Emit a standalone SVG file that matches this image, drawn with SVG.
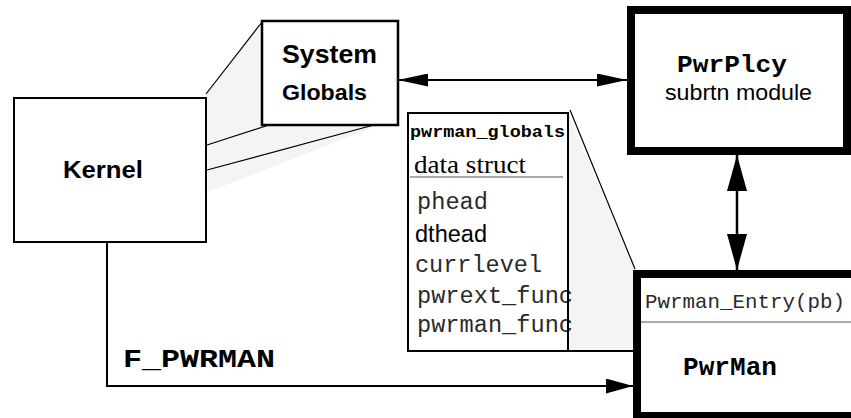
<svg xmlns="http://www.w3.org/2000/svg" width="851" height="418" viewBox="0 0 851 418">
<defs>
<style>
.box{fill:#fff;stroke:#000}
.thin{stroke:#000;stroke-width:1.2;fill:none}
.shade{fill:#f4f4f4;stroke:none}
.conn{stroke:#000;stroke-width:2;fill:none}
.sans{font-family:"Liberation Sans",Arial,sans-serif;fill:#000}
.bold{font-weight:bold}
.mono{font-family:"Liberation Mono","Courier New",monospace;fill:#2a2a2a}
.monob{font-family:"Liberation Mono","Courier New",monospace;font-weight:bold;fill:#000}
.serif{font-family:"Liberation Serif","Times New Roman",serif;fill:#000}
.rule{stroke:#555;stroke-width:1}
</style>
<marker id="ah" viewBox="0 0 30 13" refX="30" refY="6.5" markerWidth="30" markerHeight="13" markerUnits="userSpaceOnUse" orient="auto-start-reverse">
<path d="M0,0 L30,6.5 L0,13 Z" fill="#000"/>
</marker>
<marker id="ahv" viewBox="0 0 36 20" refX="36" refY="10" markerWidth="36" markerHeight="20" markerUnits="userSpaceOnUse" orient="auto-start-reverse">
<path d="M0,0 L36,10 L0,20 Z" fill="#000"/>
</marker>
<marker id="ahf" viewBox="0 0 27 15" refX="27" refY="7.5" markerWidth="27" markerHeight="15" markerUnits="userSpaceOnUse" orient="auto">
<path d="M0,0 L27,7.5 L0,15 Z" fill="#000"/>
</marker>
</defs>

<g id="shading">
<polygon class="shade" points="206,93 262,21 398,118 208,192"/>
<polygon class="shade" points="568,113 635,270 633,351 568,351"/>
<line class="thin" x1="206" y1="94" x2="262" y2="22"/>
<line class="thin" x1="207" y1="145" x2="278" y2="122"/>
<line class="thin" x1="207" y1="170" x2="396" y2="119"/>
<line class="thin" x1="570" y1="110" x2="635" y2="269"/>
<line class="thin" x1="568" y1="351" x2="633" y2="351" style="stroke-width:2"/>
</g>

<g id="connectors">
<line class="conn" x1="398" y1="80" x2="627" y2="80" marker-start="url(#ah)" marker-end="url(#ah)"/>
<line class="conn" x1="737" y1="155" x2="737" y2="270" style="stroke-width:2.5" marker-start="url(#ahv)" marker-end="url(#ahv)"/>
<polyline class="conn" points="107,243 107,386 633,386" marker-end="url(#ahf)"/>
<text class="monob" x="123" y="367" font-size="26" textLength="152" lengthAdjust="spacingAndGlyphs">F_PWRMAN</text>
</g>

<g id="kernel">
<rect class="box" x="14" y="98" width="192" height="144" stroke-width="2"/>
<text class="sans bold" x="63" y="178" font-size="23" textLength="80" lengthAdjust="spacingAndGlyphs">Kernel</text>
</g>

<g id="system-globals">
<rect class="box" x="262" y="21" width="136" height="104" stroke-width="2.5"/>
<text class="sans bold" x="282" y="63" font-size="25" textLength="95" lengthAdjust="spacingAndGlyphs">System</text>
<text class="sans bold" x="282" y="100" font-size="22" textLength="85" lengthAdjust="spacingAndGlyphs">Globals</text>
</g>

<g id="pwrplcy">
<rect class="box" x="631" y="10" width="216" height="141" stroke-width="8"/>
<text class="monob" x="677" y="72" font-size="24" textLength="110" lengthAdjust="spacingAndGlyphs">PwrPlcy</text>
<text class="sans" x="665" y="100" font-size="22" textLength="147" lengthAdjust="spacingAndGlyphs">subrtn module</text>
</g>

<g id="pwrman-globals">
<rect class="box" x="408" y="113" width="160" height="238" stroke-width="2"/>
<text class="monob" x="410" y="137" font-size="17" textLength="155" lengthAdjust="spacingAndGlyphs">pwrman_globals</text>
<text class="serif" x="414" y="173" font-size="26" textLength="112" lengthAdjust="spacingAndGlyphs">data struct</text>
<line class="rule" x1="410" y1="177" x2="563" y2="177"/>
<text class="mono" x="417" y="209" font-size="23" textLength="71" lengthAdjust="spacingAndGlyphs">phead</text>
<text class="sans" x="415" y="242" font-size="23" textLength="72" lengthAdjust="spacingAndGlyphs">dthead</text>
<text class="mono" x="415" y="272" font-size="23" textLength="127" lengthAdjust="spacingAndGlyphs">currlevel</text>
<text class="mono" x="417" y="303" font-size="23" textLength="156" lengthAdjust="spacingAndGlyphs">pwrext_func</text>
<text class="mono" x="417" y="332" font-size="23" textLength="156" lengthAdjust="spacingAndGlyphs">pwrman_func</text>
<rect x="408" y="113" width="160" height="238" fill="none" stroke="#000" stroke-width="2"/>
</g>

<g id="pwrman">
<rect class="box" x="637" y="274" width="220" height="142" stroke-width="8"/>
<text class="mono" x="645" y="308" font-size="21" textLength="200" lengthAdjust="spacingAndGlyphs">Pwrman_Entry(pb)</text>
<line class="rule" x1="641" y1="322" x2="851" y2="322"/>
<text class="monob" x="683" y="375" font-size="25" textLength="94" lengthAdjust="spacingAndGlyphs">PwrMan</text>
</g>
</svg>
